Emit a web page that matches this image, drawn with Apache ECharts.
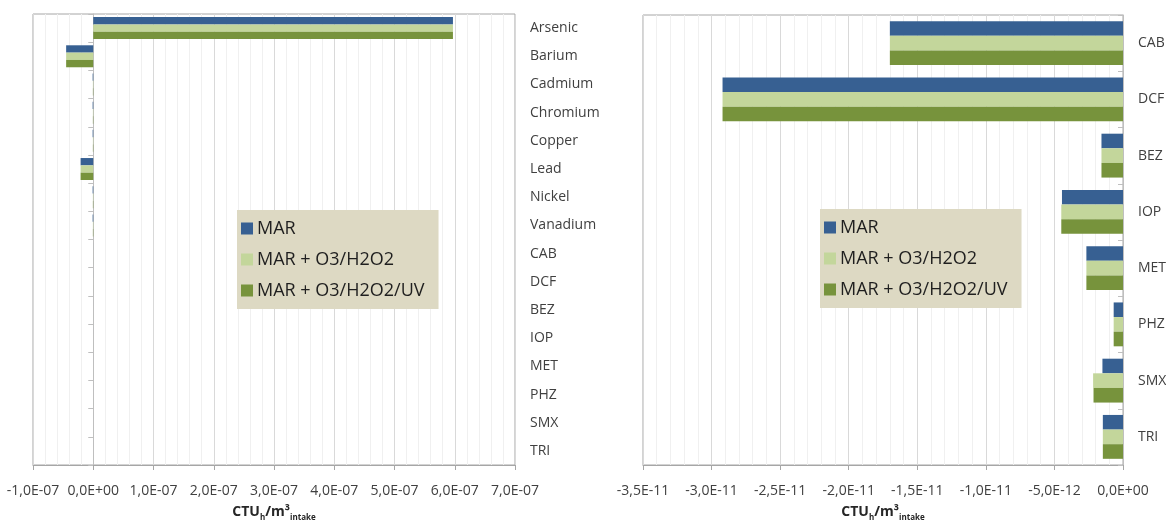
<!DOCTYPE html>
<html>
<head>
<meta charset="utf-8">
<script src="https://cdn.jsdelivr.net/npm/echarts@6/dist/echarts.min.js"></script>
<style>
html,body{margin:0;padding:0;background:#fff;}
#chart{width:1166px;height:520px;}
</style>
</head>
<body>
<div id="chart"></div>
<script>
var seriesNames = ['MAR', 'MAR + O3/H2O2', 'MAR + O3/H2O2/UV'];
var metalCategories = ['Arsenic', 'Barium', 'Cadmium', 'Chromium', 'Copper', 'Lead', 'Nickel', 'Vanadium'];
var organicCategories = ['CAB', 'DCF', 'BEZ', 'IOP', 'MET', 'PHZ', 'SMX', 'TRI'];

var metalsMAR      = [5.97e-7, -4.5e-8, -1.0e-9, -1.0e-9, -1.0e-9, -2.1e-8, -1.0e-9, -1.0e-9];
var metalsO3H2O2   = [5.97e-7, -4.5e-8, -6.0e-10, -6.0e-10, -6.0e-10, -2.1e-8, -6.0e-10, -6.0e-10];
var metalsO3H2O2UV = [5.97e-7, -4.5e-8, -6.0e-10, -6.0e-10, -6.0e-10, -2.1e-8, -6.0e-10, -6.0e-10];

var organicsMAR      = [-1.70e-11, -2.92e-11, -1.57e-12, -4.45e-12, -2.67e-12, -6.8e-13, -1.50e-12, -1.47e-12];
var organicsO3H2O2   = [-1.70e-11, -2.92e-11, -1.57e-12, -4.50e-12, -2.67e-12, -6.8e-13, -2.18e-12, -1.47e-12];
var organicsO3H2O2UV = [-1.70e-11, -2.92e-11, -1.57e-12, -4.50e-12, -2.67e-12, -6.8e-13, -2.15e-12, -1.47e-12];

var leftTicks  = {min: -1e-7, max: 7e-7, interval: 1e-7};
var rightTicks = {min: -3.5e-11, max: 0, interval: 5e-12};

var colors = ['#376092', '#c3d69b', '#77933c'];

function sci(v) {
  if (Math.abs(v) < 1e-25) return '0,0E+00';
  var e = Math.floor(Math.log10(Math.abs(v)) + 1e-9);
  var ms = (v / Math.pow(10, e)).toFixed(1);
  if (Math.abs(parseFloat(ms)) >= 10) { e += 1; ms = (v / Math.pow(10, e)).toFixed(1); }
  var es = (e < 0 ? '-' : '+') + String(Math.abs(e)).padStart(2, '0');
  return ms.replace('.', ',') + 'E' + es;
}

var leftCategories = metalCategories.concat(organicCategories);
var leftData = [
  metalsMAR.concat(organicsMAR),
  metalsO3H2O2.concat(organicsO3H2O2),
  metalsO3H2O2UV.concat(organicsO3H2O2UV)
];
var rightData = [organicsMAR, organicsO3H2O2, organicsO3H2O2UV];

var FONT = 'Open Sans';
var labelColor = '#404040';

function valueAxis(gridIndex, t) {
  return {
    type: 'value', gridIndex: gridIndex,
    min: t.min, max: t.max, interval: t.interval,
    axisLine: {show: true, onZero: false, lineStyle: {color: '#a6a6a6'}},
    axisTick: {show: true, length: 5, lineStyle: {color: '#a6a6a6'}},
    axisLabel: {formatter: sci, color: labelColor, fontFamily: FONT, fontSize: 14, margin: 19},
    splitLine: {show: true, lineStyle: {color: '#d9d9d9'}},
    minorTick: {show: false, splitNumber: 5},
    minorSplitLine: {show: true, lineStyle: {color: '#f0f0f0'}},
    name: '{b|CTU}{s|h}{b|/m³}{s|intake}',
    nameLocation: 'middle', nameGap: 40,
    nameTextStyle: {
      rich: {
        b: {fontFamily: FONT, fontSize: 14, fontWeight: 'bold', color: '#262626', verticalAlign: 'bottom'},
        s: {fontFamily: FONT, fontSize: 8, fontWeight: 'bold', color: '#262626', verticalAlign: 'bottom', padding: [0, 0, -3, 0]}
      }
    }
  };
}

function catAxes(gridIndex, cats) {
  return [
    {
      type: 'category', gridIndex: gridIndex, data: cats, inverse: true, position: 'left',
      axisLine: {show: true, onZero: true, lineStyle: {color: '#bfbfbf'}},
      axisTick: {show: true, length: 5, lineStyle: {color: '#bfbfbf'}},
      axisLabel: {show: false}, splitLine: {show: false}
    },
    {
      type: 'category', gridIndex: gridIndex, data: cats, inverse: true, position: 'right',
      axisLine: {show: false}, axisTick: {show: false}, splitLine: {show: false},
      axisLabel: {show: true, color: labelColor, fontFamily: FONT, fontSize: 14, margin: 15}
    }
  ];
}

var series = [];
seriesNames.forEach(function (n, i) {
  series.push({
    type: 'bar', name: n, xAxisIndex: 0, yAxisIndex: 0, data: leftData[i],
    itemStyle: {color: colors[i]}, barGap: '0%', barCategoryGap: '22%'
  });
});
seriesNames.forEach(function (n, i) {
  series.push({
    type: 'bar', name: n, xAxisIndex: 1, yAxisIndex: 2, data: rightData[i],
    itemStyle: {color: colors[i]}, barGap: '0%', barCategoryGap: '22%'
  });
});

function legend(left, top) {
  return {
    data: seriesNames, orient: 'vertical', left: left, top: top,
    backgroundColor: '#ddd9c3', borderWidth: 0,
    padding: [9, 14, 9, 4], itemGap: 12, itemWidth: 12, itemHeight: 12, icon: 'rect',
    textStyle: {fontFamily: FONT, fontSize: 18, lineHeight: 19, color: '#1f1f1f', padding: [0, 0, 0, -1]},
    selectedMode: false
  };
}

var option = {
  animation: false,
  backgroundColor: '#ffffff',
  grid: [
    {left: 33, top: 14, width: 482, height: 451, show: true, borderColor: '#a6a6a6', borderWidth: 1, containLabel: false, outerBoundsMode: 'none'},
    {left: 643, top: 15, width: 480, height: 450, show: true, borderColor: '#a6a6a6', borderWidth: 1, containLabel: false, outerBoundsMode: 'none'}
  ],
  xAxis: [valueAxis(0, leftTicks), valueAxis(1, rightTicks)],
  yAxis: catAxes(0, leftCategories).concat(catAxes(1, organicCategories)),
  legend: [legend(237, 210), legend(820, 209)],
  series: series
};

var chart = echarts.init(document.getElementById('chart'), null, {renderer: 'canvas'});
chart.setOption(option);
</script>
</body>
</html>
